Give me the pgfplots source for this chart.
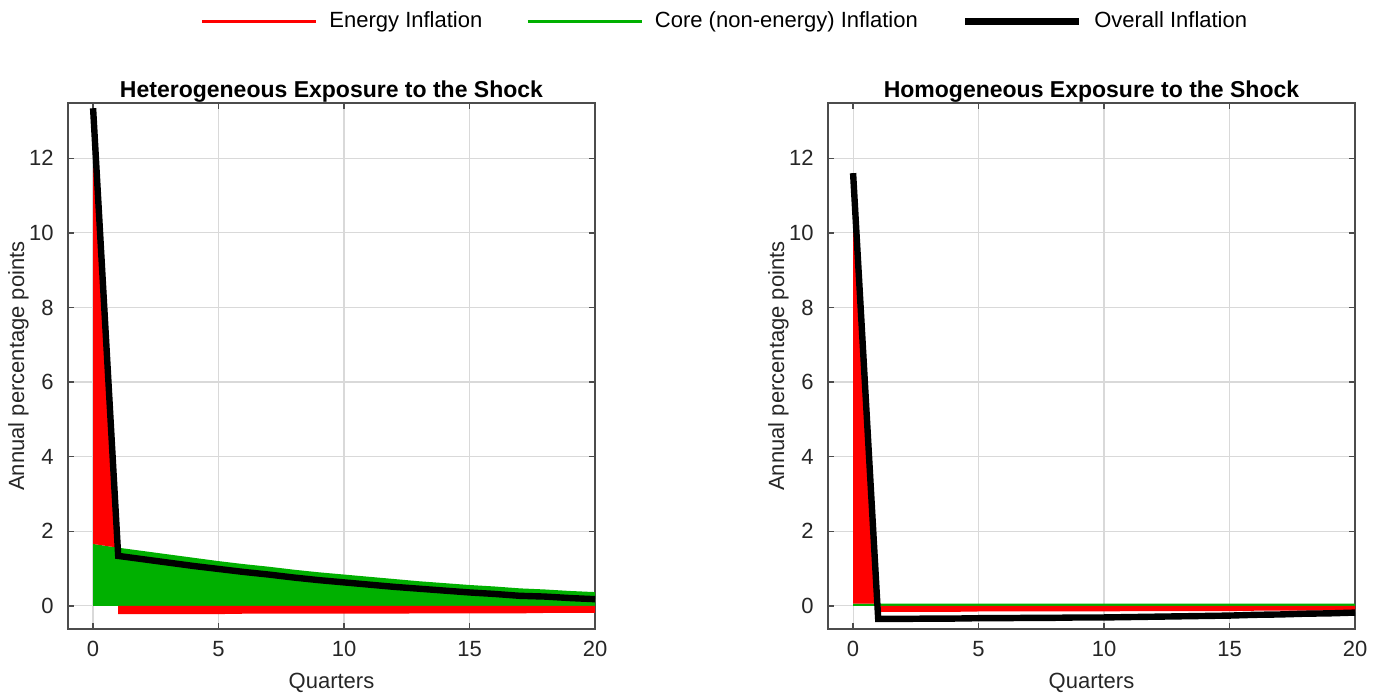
\documentclass[border=0pt]{standalone}
\usepackage{fontspec}
\setmainfont{Liberation Sans}
\usepackage{pgfplots}
\pgfplotsset{compat=1.18}

\definecolor{enred}{RGB}{255,0,0}
\definecolor{coregreen}{RGB}{0,176,0}

\pgfplotsset{
  panel/.style={
    scale only axis, width=263.5pt, height=263pt,
    xmin=-1, xmax=20, ymin=-0.62, ymax=13.48,
    xtick={0,5,...,20}, ytick={0,2,...,12},
    grid=major, major grid style={black!15, line width=0.6pt},
    axis line style={black!70, line width=0.7pt},
    tick align=inside, major tick length=3pt, tick style={black!70, line width=0.7pt},
    /pgf/number format/assume math mode=true,
    ticklabel style={font=\fontsize{11}{13}\selectfont, text=black!85},
    yticklabel style={inner sep=0pt, xshift=-7pt},
    xticklabel style={inner sep=0pt, yshift=-6pt},
    label style={font=\fontsize{11}{13}\selectfont, text=black!85},
    xlabel=Quarters, ylabel=Annual percentage points,
    xlabel style={at={(axis description cs:0.5,-0.102)}, anchor=center, inner sep=0pt},
    ylabel style={at={(axis description cs:-0.094,0.5)}, anchor=center, inner sep=0pt},
    title style={at={(axis description cs:0.5,1)}, anchor=base, yshift=-3pt,
      font=\bfseries\fontsize{11.5}{13}\selectfont},
  },
}

\begin{document}
\begin{tikzpicture}
\useasboundingbox (0,0) rectangle (691.5pt,-346.5pt);

% left panel
\begin{axis}[panel, at={(34pt,-314.5pt)}, anchor=south west,
  title={Heterogeneous Exposure to the Shock},
  legend columns=3,
  legend style={draw=none, fill=none, at={(axis description cs:1.2467,1.155)}, anchor=center,
    font=\fontsize{11}{13}\selectfont,
    nodes={inner sep=1pt},
    /tikz/every odd column/.append style={column sep=5pt},
    /tikz/every even column/.append style={column sep=21pt}},
  legend image code/.code={\draw[#1] (0pt,0pt) -- (57pt,0pt);},
]
\addlegendimage{enred, line width=1.3pt}
\addlegendentry{Energy Inflation}
\addlegendimage{coregreen, line width=1.3pt}
\addlegendentry{Core (non-energy) Inflation}
\addlegendimage{black, line width=3.2pt}
\addlegendentry{Overall Inflation}

% core (non-energy) inflation
\addplot[forget plot, fill=coregreen, draw=none] coordinates {
(0,1.66) (1,1.56) (2,1.47) (3,1.38) (4,1.29) (5,1.20) (6,1.12) (7,1.05) (8,0.97) (9,0.90) (10,0.84)
(11,0.78) (12,0.72) (13,0.66) (14,0.61) (15,0.56) (16,0.52) (17,0.47) (18,0.44) (19,0.40) (20,0.37)
} \closedcycle;
% energy inflation: positive part on top of core, negative part below zero
\addplot[forget plot, fill=enred, draw=none] coordinates {(0,1.66) (0,13.34) (1,1.56)};
\addplot[forget plot, fill=enred, draw=none] coordinates {
(1,-0.22) (2,-0.22) (3,-0.22) (4,-0.22) (5,-0.22) (6,-0.21) (7,-0.21) (8,-0.21) (9,-0.21) (10,-0.21)
(11,-0.21) (12,-0.21) (13,-0.20) (14,-0.20) (15,-0.20) (16,-0.20) (17,-0.20) (18,-0.19) (19,-0.19) (20,-0.19)
} \closedcycle;
% overall inflation
\addplot[forget plot, black, line width=3.2pt] coordinates {
(0,13.34) (1,1.34) (2,1.25) (3,1.16) (4,1.07) (5,0.99) (6,0.91) (7,0.84) (8,0.76) (9,0.69) (10,0.63)
(11,0.57) (12,0.51) (13,0.46) (14,0.41) (15,0.36) (16,0.32) (17,0.27) (18,0.25) (19,0.21) (20,0.18)
};
\end{axis}

% right panel
\begin{axis}[panel, at={(414pt,-314.5pt)}, anchor=south west,
  title={Homogeneous Exposure to the Shock},
]
\addplot[fill=coregreen, draw=none] coordinates {
(0,0.06) (1,0.06) (5,0.06) (10,0.06) (15,0.06) (20,0.06)
} \closedcycle;
\addplot[fill=enred, draw=none] coordinates {(0,0.06) (0,11.6) (1,0.06)};
\addplot[fill=enred, draw=none] coordinates {
(1,-0.16) (2,-0.16) (3,-0.16) (4,-0.16) (5,-0.15) (6,-0.15) (7,-0.15) (8,-0.15) (9,-0.15) (10,-0.15)
(11,-0.14) (12,-0.14) (13,-0.14) (14,-0.14) (15,-0.14) (16,-0.13) (17,-0.13) (18,-0.13) (19,-0.13) (20,-0.13)
} \closedcycle;
\addplot[black, line width=3.2pt] coordinates {
(0,11.6) (1,-0.35) (2,-0.35) (3,-0.34) (4,-0.34) (5,-0.33) (6,-0.33) (7,-0.32) (8,-0.32) (9,-0.31) (10,-0.31)
(11,-0.30) (12,-0.29) (13,-0.28) (14,-0.27) (15,-0.26) (16,-0.24) (17,-0.23) (18,-0.21) (19,-0.20) (20,-0.18)
};
\end{axis}
\end{tikzpicture}
\end{document}
